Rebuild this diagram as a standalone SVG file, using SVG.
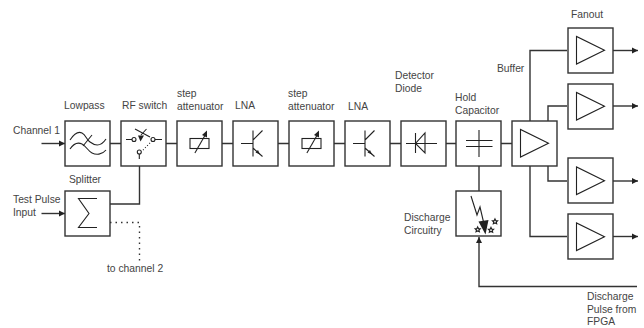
<svg xmlns="http://www.w3.org/2000/svg" width="644" height="328" viewBox="0 0 644 328">
<style>
text{font-family:"Liberation Sans",Arial,sans-serif;font-size:10.3px;fill:#444}
.b{fill:#fff;stroke:#333;stroke-width:1.400}
.l{fill:none;stroke:#333;stroke-width:1.400}
.s{fill:none;stroke:#222;stroke-width:1.100}
.d{fill:#222;stroke:none}
</style>
<defs>
<marker id="a" markerUnits="userSpaceOnUse" markerWidth="7" markerHeight="7" refX="6" refY="3.500" orient="auto"><path d="M0,0.500L6,3.500L0,6.500Z" fill="#222"/></marker>
<g id="amp"><path class="s" d="M0,0V27.500L28,13.700Z"/></g>
<g id="tr"><path class="s" d="M-12,0H0M0,-13V13M0,-3.500L9.500,-13M0,4.500L9.500,13"/><path class="d" d="M7,11L2.500,9L5,6.500Z"/></g>
<g id="att"><rect class="s" x="-9.500" y="-5" width="19" height="10"/><path class="s" d="M-4.600,9.500L6,-9"/><path class="d" d="M7.500,-13L7.500,-6L2.500,-8.500Z"/></g>
<path id="star" class="s" stroke-width="1.300" d="M0,-2.600L.8,-.9 2.600,-.8 1.300,.5 1.700,2.300 0,1.400 -1.700,2.300 -1.300,.5 -2.600,-.8 -.8,-.9Z"/>
</defs>
<g id="connectors">
<path class="l" marker-end="url(#a)" d="M41.500,143.500H65"/>
<path class="l" d="M110,143.500H121M166,143.500H177M222,143.500H233M278,143.500H289M334,143.500H345M390,143.500H401M446,143.500H456M501,143.500H512"/>
<path class="l" marker-end="url(#a)" d="M41.500,213.500H65"/>
<path class="l" d="M110,204H139.500V166"/>
<path class="l" stroke-dasharray="1.500 4" d="M110,222.500H139.500V261"/>
<path class="l" d="M530,121V50.500H567"/>
<path class="l" d="M548,121V106H567"/>
<path class="l" d="M548,166V181H567"/>
<path class="l" d="M530,166V236.500H567"/>
<path class="l" marker-end="url(#a)" d="M613,50.500H638"/>
<path class="l" marker-end="url(#a)" d="M613,106H638"/>
<path class="l" marker-end="url(#a)" d="M613,181H638"/>
<path class="l" marker-end="url(#a)" d="M613,236.500H638"/>
<path class="l" d="M479,166V191"/>
<path class="l" marker-end="url(#a)" d="M637,286.500H479V237"/>
</g>
<g id="lowpass"><rect class="b" x="65" y="121" width="45" height="45"/>
<path class="s" d="M70,140C74,134 78,131 82,133S86,139 90,142S100,148 106,139M70,149C74,143 78,142 82,144S88,151 92,153S102,155 106,150M83,146L92,135"/>
<text x="64" y="109">Lowpass</text></g>
<g id="rfswitch"><rect class="b" x="121" y="121" width="45" height="45"/>
<path class="s" d="M126,139.500H132M155,139.500H162M139.300,154V159M135,129L150,137M141,135L146.500,129"/>
<circle class="s" cx="134" cy="139.500" r="2"/><circle class="s" cx="153" cy="139.500" r="2"/><circle class="s" cx="139.300" cy="152" r="2"/>
<path class="s" d="M150,143L143,150" stroke-dasharray="1 2"/>
<path class="d" d="M138,135.500L144,135.500L140.500,141.500Z"/>
<text x="122" y="109">RF switch</text></g>
<g id="attenuator1"><rect class="b" x="177" y="121" width="45" height="45"/><use href="#att" x="199.500" y="143.500"/>
<text x="177" y="97">step</text><text x="177" y="110">attenuator</text></g>
<g id="lna1"><rect class="b" x="233" y="121" width="45" height="45"/><use href="#tr" x="253" y="143.500"/>
<text x="235" y="109">LNA</text></g>
<g id="attenuator2"><rect class="b" x="289" y="121" width="45" height="45"/><use href="#att" x="311.500" y="143.500"/>
<text x="288" y="97">step</text><text x="288" y="110">attenuator</text></g>
<g id="lna2"><rect class="b" x="345" y="121" width="45" height="45"/><use href="#tr" x="365" y="143.500"/>
<text x="348" y="110">LNA</text></g>
<g id="diode"><rect class="b" x="401" y="121" width="45" height="45"/>
<path class="s" d="M406,143.500H437M415.500,133V153M425,133V153L415.500,143.500Z"/>
<text x="395" y="79">Detector</text><text x="395" y="92">Diode</text></g>
<g id="hold"><rect class="b" x="456" y="121" width="45" height="45"/>
<path class="s" d="M479,130V157M466,140.500H492.500M466,146.500H492.500"/>
<text x="455" y="101">Hold</text><text x="455" y="114">Capacitor</text></g>
<g id="buffer"><rect class="b" x="512" y="121" width="45" height="45"/><use href="#amp" x="520.500" y="129.500"/>
<text x="497" y="72">Buffer</text></g>
<g id="fanout1"><rect class="b" x="568" y="28" width="45" height="45"/><use href="#amp" x="576.500" y="36.500"/>
<text x="571" y="18">Fanout</text></g>
<g id="fanout2"><rect class="b" x="568" y="84" width="45" height="45"/><use href="#amp" x="576.500" y="92.500"/></g>
<g id="fanout3"><rect class="b" x="568" y="158" width="45" height="45"/><use href="#amp" x="576.500" y="167"/></g>
<g id="fanout4"><rect class="b" x="568" y="214" width="45" height="45"/><use href="#amp" x="576.500" y="223"/></g>
<g id="discharge"><rect class="b" x="456" y="191" width="45" height="45"/>
<path class="s" d="M471,196L477,215L480,207L484,224"/><path class="d" d="M478.500,221.500L488.500,220L485.500,234.500Z"/>
<use href="#star" x="477.700" y="229.500"/><use href="#star" x="491" y="230"/><use href="#star" x="495" y="221.500"/>
<text x="404" y="221">Discharge</text><text x="404" y="234">Circuitry</text></g>
<g id="splitter"><rect class="b" x="65" y="191" width="45" height="45"/>
<path class="s" d="M97,198.500H78.500L89,213.500L78.500,227.500H97"/>
<text x="69" y="183">Splitter</text></g>
<g id="labels">
<text x="13" y="134">Channel 1</text>
<text x="13" y="203">Test Pulse</text><text x="13" y="216">Input</text>
<text x="107" y="272">to channel 2</text>
<text x="587" y="300">Discharge</text><text x="587" y="312.500">Pulse from</text><text x="587" y="325">FPGA</text>
</g>
</svg>
